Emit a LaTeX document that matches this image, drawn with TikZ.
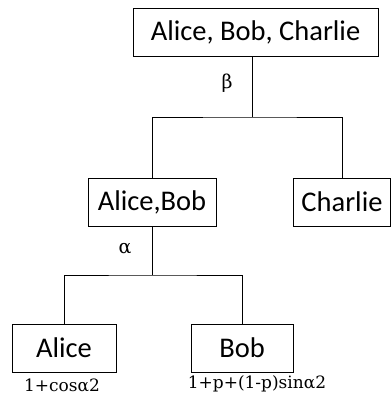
\documentclass[tikz,border=0pt]{standalone}
\usepackage{fontspec}
\setmainfont{Carlito}
\newfontfamily\lblfont{DejaVu Serif}
\begin{document}
\begin{tikzpicture}[x=1pt,y=-1pt,
  boxnode/.style={draw,line width=0.8pt,rectangle,inner sep=0pt,minimum height=48pt,font=\fontsize{28.5}{32}\selectfont},
  lbl/.style={font=\lblfont\fontsize{17}{20}\selectfont,inner sep=0pt},
  greek/.style={font=\lblfont\fontsize{19}{22}\selectfont,inner sep=0pt},
  conn/.style={line width=0.8pt}]
\useasboundingbox (0,0) rectangle (391,401);
\node[boxnode,minimum width=245pt] (top) at (255.5,32) {Alice, Bob, Charlie};
\node[boxnode,minimum width=128pt] (ab) at (152,202) {Alice,Bob};
\node[boxnode,minimum width=97pt] (ch) at (342,202) {Charlie};
\node[boxnode,minimum width=104pt] (al) at (64,348) {Alice};
\node[boxnode,minimum width=102pt] (bo) at (242,348) {Bob};
\coordinate (j1) at (252,117);
\coordinate (j2) at (152,275);
\draw[conn] (top.south -| j1) -- (j1);
\draw[conn] (ab.north) |- (j1) -| (ch.north);
\draw[conn] (ab.south) -- (j2);
\draw[conn] (al.north) |- (j2) -| (bo.north);
\node[greek] (beta) at (227,83) {β};
\node[greek] (alpha) at (125,249) {α};
\node[lbl] (la) at (62,385) {1+cosα2};
\node[lbl] (lb) at (257,384) {1+p+(1-p)sinα2};
\end{tikzpicture}
\end{document}
